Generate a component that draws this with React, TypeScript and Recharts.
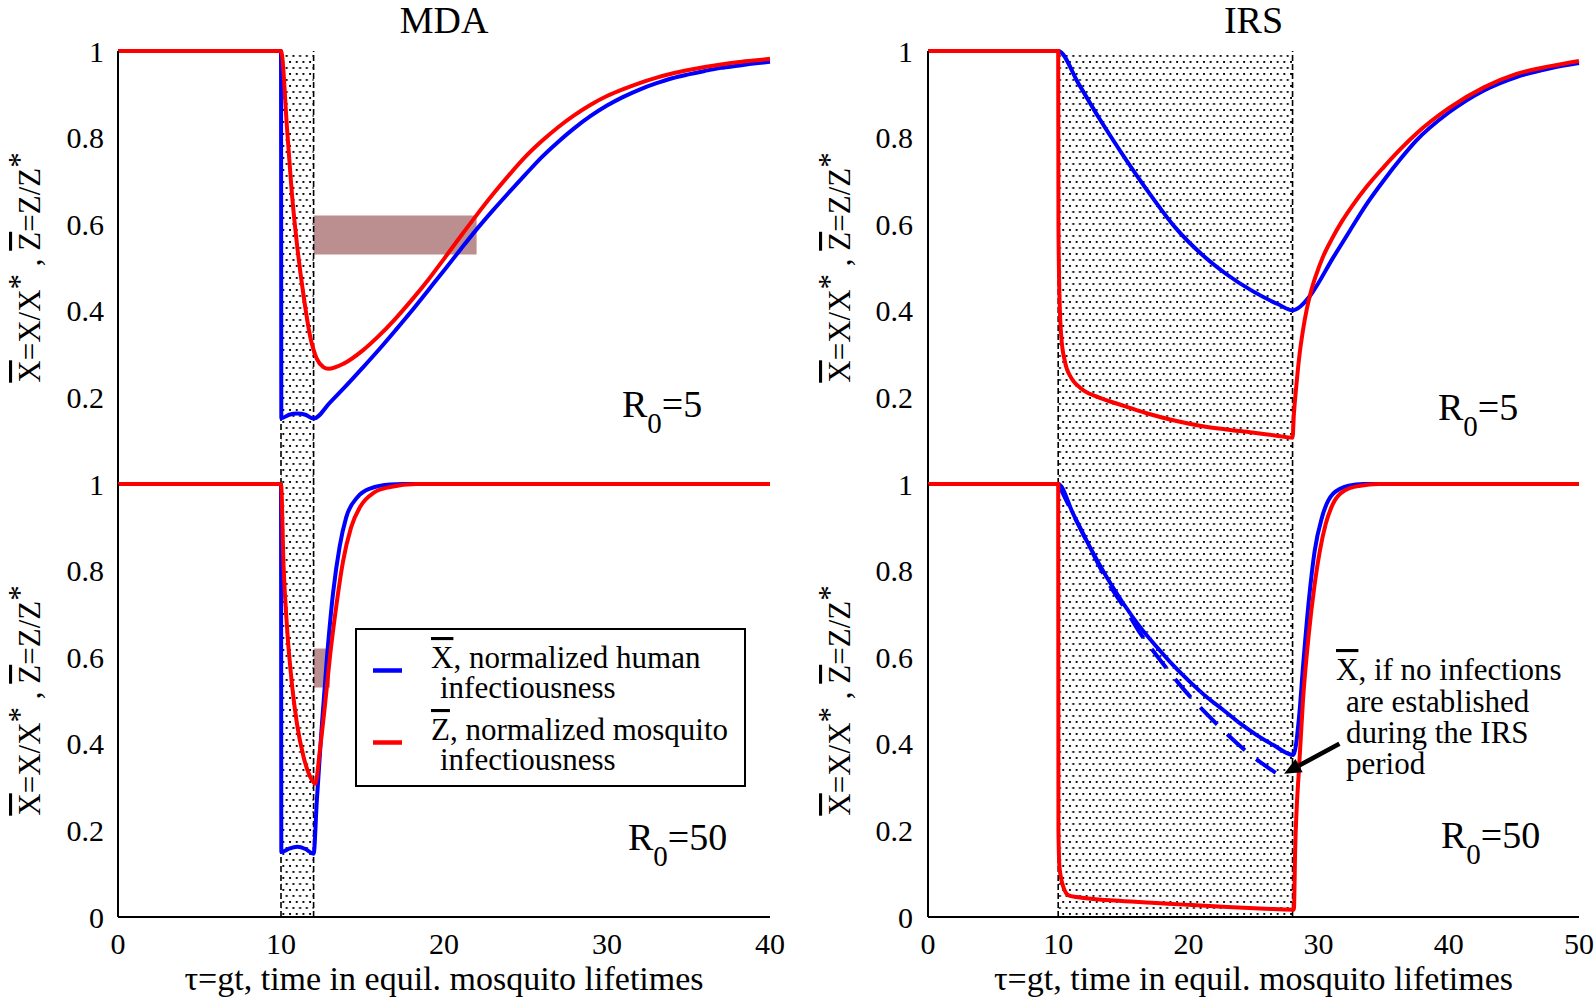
import React from 'react';
import { LineChart, Line, XAxis, YAxis, ReferenceArea, ReferenceLine, Legend } from 'recharts';

type Pt = [number, number];

const FONT = '"Liberation Serif", "Times New Roman", serif';
const BLUE = '#0000ff';
const RED = '#ff0000';
const BAND = '#bb8f8f';

// ---- values ----
const MDA_TICKS = [0, 10, 20, 30, 40];
const IRS_TICKS = [0, 10, 20, 30, 40, 50];
const Y_LABELLED_TOP = [0.2, 0.4, 0.6, 0.8, 1];
const Y_LABELLED_BOTTOM = [0, 0.2, 0.4, 0.6, 0.8, 1];
const Y_MAJOR = [0, 0.2, 0.4, 0.6, 0.8, 1];
const Y_MINOR = [0.1, 0.3, 0.5, 0.7, 0.9];

const MDA_PERIOD = [10, 12];
const IRS_PERIOD = [10, 28];
// x1, x2, y1, y2
const MDA_BAND_R5 = [12, 22, 0.53, 0.62];
const MDA_BAND_R50 = [12, 13, 0.53, 0.62];
// arrow tail -> tip, in IRS R0=50 data coords
const NOTE_ARROW: Pt[] = [[31.6, 0.4], [27.35, 0.331]];

// MDA, R0 = 5
const mdaX5: Pt[] = [
  [0, 1], [10, 1], [10.02, 0.152], [10.5, 0.16], [11, 0.163], [11.5, 0.16], [12, 0.151],
  [13, 0.188], [14, 0.227], [15, 0.268], [16, 0.31], [17, 0.354], [18, 0.399], [19, 0.446],
  [20, 0.493], [21, 0.541], [22, 0.588], [23, 0.632], [24, 0.674], [25, 0.715], [26, 0.755],
  [27, 0.79], [28, 0.822], [29, 0.85], [30, 0.874], [31, 0.894], [32, 0.911], [33, 0.925],
  [34, 0.937], [35, 0.946], [36, 0.954], [37, 0.961], [38, 0.966], [39, 0.971], [40, 0.975],
];
const mdaZ5: Pt[] = [
  [0, 1], [10, 1], [10.38, 0.816], [10.69, 0.662], [11, 0.547], [11.4, 0.431], [11.8, 0.339],
  [12.2, 0.289], [12.6, 0.27], [12.9, 0.266], [13.85, 0.278], [15, 0.308], [16, 0.342],
  [17, 0.381], [18, 0.424], [19, 0.47], [20, 0.52], [21, 0.571], [22, 0.621], [23, 0.669],
  [24, 0.714], [25, 0.756], [26, 0.792], [27, 0.824], [28, 0.852], [29, 0.876], [30, 0.896],
  [31, 0.912], [32, 0.926], [33, 0.938], [34, 0.948], [35, 0.956], [36, 0.963], [37, 0.969],
  [38, 0.974], [39, 0.978], [40, 0.982],
];

// MDA, R0 = 50
const mdaX50: Pt[] = [
  [0, 1], [10, 1], [10.02, 0.15], [10.5, 0.158], [11, 0.162], [11.5, 0.157], [12, 0.146],
  [12.2, 0.27], [12.5, 0.44], [12.8, 0.59], [13.2, 0.75], [13.6, 0.856], [14, 0.923],
  [14.7, 0.97], [15.5, 0.99], [16.7, 0.999], [17.5, 1], [40, 1],
];
const mdaZ50: Pt[] = [
  [0, 1], [10, 1], [10.16, 0.808], [10.37, 0.669], [10.67, 0.538], [10.98, 0.446],
  [11.39, 0.369], [11.8, 0.323], [12.1, 0.308], [12.4, 0.39], [12.7, 0.49], [13, 0.6],
  [13.4, 0.72], [13.8, 0.82], [14.3, 0.9], [14.9, 0.95], [15.7, 0.98], [16.7, 0.993],
  [18.3, 1], [40, 1],
];

// IRS, R0 = 5
const irsX5: Pt[] = [
  [0, 1], [10, 1], [11.57, 0.924], [13.1, 0.847], [15.1, 0.754], [17.06, 0.669], [19, 0.592],
  [21, 0.531], [22.9, 0.485], [24.9, 0.446], [26.9, 0.415], [28, 0.401], [28.6, 0.41],
  [29.35, 0.435], [31.14, 0.524], [32.4, 0.585], [33.7, 0.647], [35, 0.701], [36.3, 0.751],
  [37.5, 0.793], [40, 0.858], [42.7, 0.909], [45.2, 0.94], [47.8, 0.96], [50, 0.972],
];
const irsZ5: Pt[] = [
  [0, 1], [10, 1], [10.02, 0.6], [10.1, 0.43], [10.25, 0.335], [10.5, 0.285], [11, 0.245],
  [11.5, 0.227], [12, 0.215], [13.1, 0.2], [15.1, 0.18], [17.06, 0.161], [19, 0.146],
  [21, 0.134], [22.9, 0.126], [24.9, 0.119], [26.9, 0.111], [28, 0.107], [28.1, 0.16],
  [28.3, 0.23], [28.5, 0.29], [28.8, 0.355], [29.1, 0.405], [29.4, 0.443], [29.8, 0.482],
  [30.3, 0.522], [31, 0.565], [31.8, 0.607], [32.6, 0.643], [33.7, 0.687], [35, 0.732],
  [36.3, 0.774], [37.5, 0.809], [40, 0.868], [42.7, 0.916], [45.2, 0.947], [47.8, 0.965],
  [50, 0.977],
];

// IRS, R0 = 50
const irsX50: Pt[] = [
  [0, 1], [10, 1], [11.15, 0.931], [12.44, 0.854], [13.72, 0.785], [15, 0.724], [16.28, 0.67],
  [17.56, 0.624], [18.84, 0.581], [20.12, 0.543], [21.4, 0.508], [22.68, 0.478], [23.97, 0.447],
  [25.25, 0.42], [26.53, 0.397], [28.06, 0.374], [28.5, 0.462], [28.8, 0.577], [29.25, 0.731],
  [29.7, 0.846], [30.26, 0.923], [31.1, 0.977], [32.3, 0.996], [33.45, 1], [50, 1],
];
const irsX50NoInfection: Pt[] = [
  [10, 1], [11.15, 0.93], [12.44, 0.853], [13.72, 0.778], [15.26, 0.706], [16.28, 0.656],
  [17.56, 0.604], [19.66, 0.525], [21.9, 0.454], [24.35, 0.385], [27, 0.327],
];
const irsZ50: Pt[] = [
  [0, 1], [10, 1], [10.02, 0.2], [10.1, 0.115], [10.4, 0.069], [10.8, 0.05], [11.4, 0.046],
  [14.3, 0.038], [17.2, 0.033], [20, 0.028], [23, 0.023], [25.9, 0.019], [28.1, 0.017],
  [28.2, 0.154], [28.5, 0.346], [28.8, 0.5], [29.25, 0.654], [29.7, 0.769], [30.1, 0.846],
  [30.55, 0.908], [31.1, 0.954], [32, 0.985], [33.2, 0.996], [34.6, 1], [50, 1],
];

const LEGEND_ROWS = [
  { color: BLUE, sym: 'X', text: ', normalized human', text2: 'infectiousness' },
  { color: RED, sym: 'Z', text: ', normalized mosquito', text2: 'infectiousness' },
];
const NOTE_LINES = ['are established', 'during the IRS', 'period'];

const toRows = (pts: Pt[]) => pts.map(([x, y]) => ({ x, y }));

const FRAME = { stroke: '#000', strokeWidth: 2 };
const TICK_TEXT = { fill: '#000', fontSize: 30, fontFamily: FONT };
const OVER = { textDecoration: 'overline' };

// layout of the 2x2 grid
const LEFT_COL = { left: 0, width: 800, yAxisWidth: 118, rightMargin: 30 };
const RIGHT_COL = { left: 800, width: 794, yAxisWidth: 128, rightMargin: 15 };
const TOP_ROW = { top: 0, height: 484, marginTop: 51, xAxisHeight: 0, bottom: false };
const BOTTOM_ROW = { top: 444, height: 559, marginTop: 40, xAxisHeight: 86, bottom: true };

function XTitle(p: any) {
  const vb = p.viewBox;
  return (
    <text x={vb.x + vb.width / 2} y={vb.y + 73} textAnchor="middle" fontFamily={FONT} fontSize={34} fill="#000">
      τ=gt, time in equil. mosquito lifetimes
    </text>
  );
}

function YTitle(p: any) {
  const vb = p.viewBox;
  const bx = vb.x + vb.width - 78;
  const cy = vb.y + vb.height / 2;
  return (
    <text x={bx} y={cy} transform={`rotate(-90 ${bx} ${cy})`} textAnchor="middle"
      fontFamily={FONT} fontSize={31} fill="#000" style={{ whiteSpace: 'pre' }}>
      <tspan style={OVER}>X</tspan>
      <tspan>=X/X</tspan>
      <tspan dy={-10}>*</tspan>
      <tspan dy={10}> , </tspan>
      <tspan style={OVER}>Z</tspan>
      <tspan>=Z/Z</tspan>
      <tspan dy={-10}>*</tspan>
    </text>
  );
}

function ArrowShape(p: any) {
  const { x1, y1, x2, y2 } = p;
  const dx = x2 - x1;
  const dy = y2 - y1;
  const len = Math.hypot(dx, dy) || 1;
  const ux = dx / len;
  const uy = dy / len;
  const bx = x2 - ux * 17;
  const by = y2 - uy * 17;
  const hw = 7.5;
  return (
    <g>
      <line x1={x1} y1={y1} x2={bx} y2={by} stroke="#000" strokeWidth={4.5} />
      <polygon points={`${x2},${y2} ${bx - uy * hw},${by + ux * hw} ${bx + uy * hw},${by - ux * hw}`} fill="#000" />
    </g>
  );
}

function LegendBox() {
  return (
    <svg width={391} height={159} style={{ display: 'block' }}>
      <rect x={1} y={1} width={389} height={157} fill="#fff" stroke="#000" strokeWidth={2} />
      {LEGEND_ROWS.map((r, i) => (
        <g key={r.sym} fontFamily={FONT} fontSize={31} fill="#000">
          <line x1={18} x2={47} y1={42.5 + i * 72} y2={42.5 + i * 72} stroke={r.color} strokeWidth={4.5} />
          <text x={76} y={40 + i * 72} style={{ whiteSpace: 'pre' }}>
            <tspan style={OVER}>{r.sym}</tspan>
            <tspan>{r.text}</tspan>
          </text>
          <text x={85} y={70 + i * 72}>{r.text2}</text>
        </g>
      ))}
    </svg>
  );
}

function frameAxes(xMax: number, xTicks: number[], bottom: boolean, yAxisWidth: number, tickMargin: number) {
  const dom: [number, number] = [0, xMax];
  return [
    <XAxis key="xb" type="number" dataKey="x" domain={dom} ticks={xTicks} interval={0}
      height={bottom ? 86 : 0} axisLine={FRAME} tickLine={false} tickSize={0} tickMargin={16}
      tick={bottom ? TICK_TEXT : false} label={bottom ? XTitle : undefined} />,
    <XAxis key="xbm" xAxisId="bm" type="number" domain={dom} ticks={xTicks} interval={0} mirror height={0}
      axisLine={false} tick={false} tickLine={FRAME} tickSize={13} />,
    <XAxis key="xt" xAxisId="t" orientation="top" type="number" domain={dom} ticks={xTicks} interval={0}
      mirror height={0} axisLine={bottom ? { stroke: '#000', strokeWidth: 1.5 } : FRAME} tick={false}
      tickLine={bottom ? false : FRAME} tickSize={13} />,
    <YAxis key="yl" type="number" domain={[0, 1]} ticks={bottom ? Y_LABELLED_BOTTOM : Y_LABELLED_TOP}
      interval={0} width={yAxisWidth} axisLine={FRAME} tickLine={false} tickSize={0}
      tickMargin={tickMargin} tick={TICK_TEXT} label={YTitle} />,
    <YAxis key="ylM" yAxisId="lM" type="number" domain={[0, 1]} ticks={Y_MAJOR} interval={0} mirror width={0}
      axisLine={false} tick={false} tickLine={FRAME} tickSize={15} />,
    <YAxis key="ylm" yAxisId="lm" type="number" domain={[0, 1]} ticks={Y_MINOR} interval={0} mirror width={0}
      axisLine={false} tick={false} tickLine={FRAME} tickSize={8} />,
    <YAxis key="yrM" yAxisId="rM" orientation="right" type="number" domain={[0, 1]} ticks={Y_MAJOR}
      interval={0} mirror width={0} axisLine={FRAME} tick={false} tickLine={FRAME} tickSize={15} />,
    <YAxis key="yrm" yAxisId="rm" orientation="right" type="number" domain={[0, 1]} ticks={Y_MINOR}
      interval={0} mirror width={0} axisLine={false} tick={false} tickLine={FRAME} tickSize={8} />,
  ];
}

type Series = { data: Pt[]; color: string; name: string; dashed?: boolean };

type PanelProps = {
  id: string;
  col: typeof LEFT_COL;
  row: typeof TOP_ROW;
  xMax: number;
  xTicks: number[];
  period: number[];
  band?: number[];
  series: Series[];
  title?: string;
  r0: string;
  r0At: [number, number];
  tickMargin: number;
  children?: React.ReactNode;
};

function Panel({ id, col, row, xMax, xTicks, period, band, series, title, r0, r0At, tickMargin, children }: PanelProps) {
  const plotW = col.width - col.yAxisWidth - col.rightMargin;
  return (
    <div style={{ position: 'absolute', left: col.left, top: row.top }}>
      <LineChart width={col.width} height={row.height}
        margin={{ top: row.marginTop, right: col.rightMargin, bottom: 0, left: 0 }}>
        <defs>
          <pattern id={`dots-${id}`} width={6.7} height={12} patternUnits="userSpaceOnUse">
            <rect x={1} y={1} width={1.9} height={1.9} fill="#000" />
            <rect x={4.35} y={7} width={1.9} height={1.9} fill="#000" />
          </pattern>
        </defs>
        <ReferenceArea x1={period[0]} x2={period[1]} y1={0} y2={1} fill={`url(#dots-${id})`}
          fillOpacity={1} stroke="none" />
        {band && (
          <ReferenceArea x1={band[0]} x2={band[1]} y1={band[2]} y2={band[3]} fill={BAND}
            fillOpacity={1} stroke="none" />
        )}
        {period.map(p => (
          <ReferenceLine key={p} x={p} stroke="#000" strokeWidth={1.6} strokeDasharray="6 3" />
        ))}
        {frameAxes(xMax, xTicks, row.bottom, col.yAxisWidth, tickMargin)}
        {series.map(s => (
          <Line key={s.name} data={toRows(s.data)} dataKey="y" name={s.name} type="monotone"
            stroke={s.color} strokeWidth={4} strokeDasharray={s.dashed ? '24 14' : undefined}
            dot={false} activeDot={false} isAnimationActive={false} />
        ))}
        {title && (
          <text x={col.yAxisWidth + plotW / 2} y={33} textAnchor="middle" fontFamily={FONT} fontSize={38} fill="#000">
            {title}
          </text>
        )}
        <text x={r0At[0]} y={r0At[1]} fontFamily={FONT} fontSize={38} fill="#000">
          R<tspan fontSize={29} dy={16}>0</tspan><tspan dy={-16}>={r0}</tspan>
        </text>
        {children}
      </LineChart>
    </div>
  );
}

export default function App() {
  return (
    <div style={{ position: 'absolute', left: 0, top: 0, width: 1594, height: 1003, background: '#fff', overflow: 'hidden' }}>
      <Panel id="tl" col={LEFT_COL} row={TOP_ROW} xMax={40} xTicks={MDA_TICKS} period={MDA_PERIOD}
        band={MDA_BAND_R5} title="MDA" r0="5" r0At={[622, 417]} tickMargin={14}
        series={[
          { data: mdaX5, color: BLUE, name: 'X' },
          { data: mdaZ5, color: RED, name: 'Z' },
        ]} />
      <Panel id="bl" col={LEFT_COL} row={BOTTOM_ROW} xMax={40} xTicks={MDA_TICKS} period={MDA_PERIOD}
        band={MDA_BAND_R50} r0="50" r0At={[628, 406]} tickMargin={14}
        series={[
          { data: mdaX50, color: BLUE, name: 'X' },
          { data: mdaZ50, color: RED, name: 'Z' },
        ]}>
        <Legend layout="horizontal" verticalAlign="middle" align="center" width={391} height={159}
          wrapperStyle={{ left: 355, top: 183.5, width: 391, height: 159 }} content={LegendBox} />
      </Panel>
      <Panel id="tr" col={RIGHT_COL} row={TOP_ROW} xMax={50} xTicks={IRS_TICKS} period={IRS_PERIOD}
        title="IRS" r0="5" r0At={[638, 420]} tickMargin={15}
        series={[
          { data: irsX5, color: BLUE, name: 'X' },
          { data: irsZ5, color: RED, name: 'Z' },
        ]} />
      <Panel id="br" col={RIGHT_COL} row={BOTTOM_ROW} xMax={50} xTicks={IRS_TICKS} period={IRS_PERIOD}
        r0="50" r0At={[641, 404]} tickMargin={15}
        series={[
          { data: irsX50, color: BLUE, name: 'X' },
          { data: irsX50NoInfection, color: BLUE, name: 'X no infections', dashed: true },
          { data: irsZ50, color: RED, name: 'Z' },
        ]}>
        <ReferenceLine segment={NOTE_ARROW.map(([x, y]) => ({ x, y }))} shape={ArrowShape} />
        <text x={536} y={236} fontFamily={FONT} fontSize={31} fill="#000" style={{ whiteSpace: 'pre' }}>
          <tspan style={OVER}>X</tspan>
          <tspan>, if no infections</tspan>
        </text>
        {NOTE_LINES.map((t, i) => (
          <text key={t} x={546} y={267.7 + i * 31} fontFamily={FONT} fontSize={31} fill="#000">{t}</text>
        ))}
      </Panel>
    </div>
  );
}
